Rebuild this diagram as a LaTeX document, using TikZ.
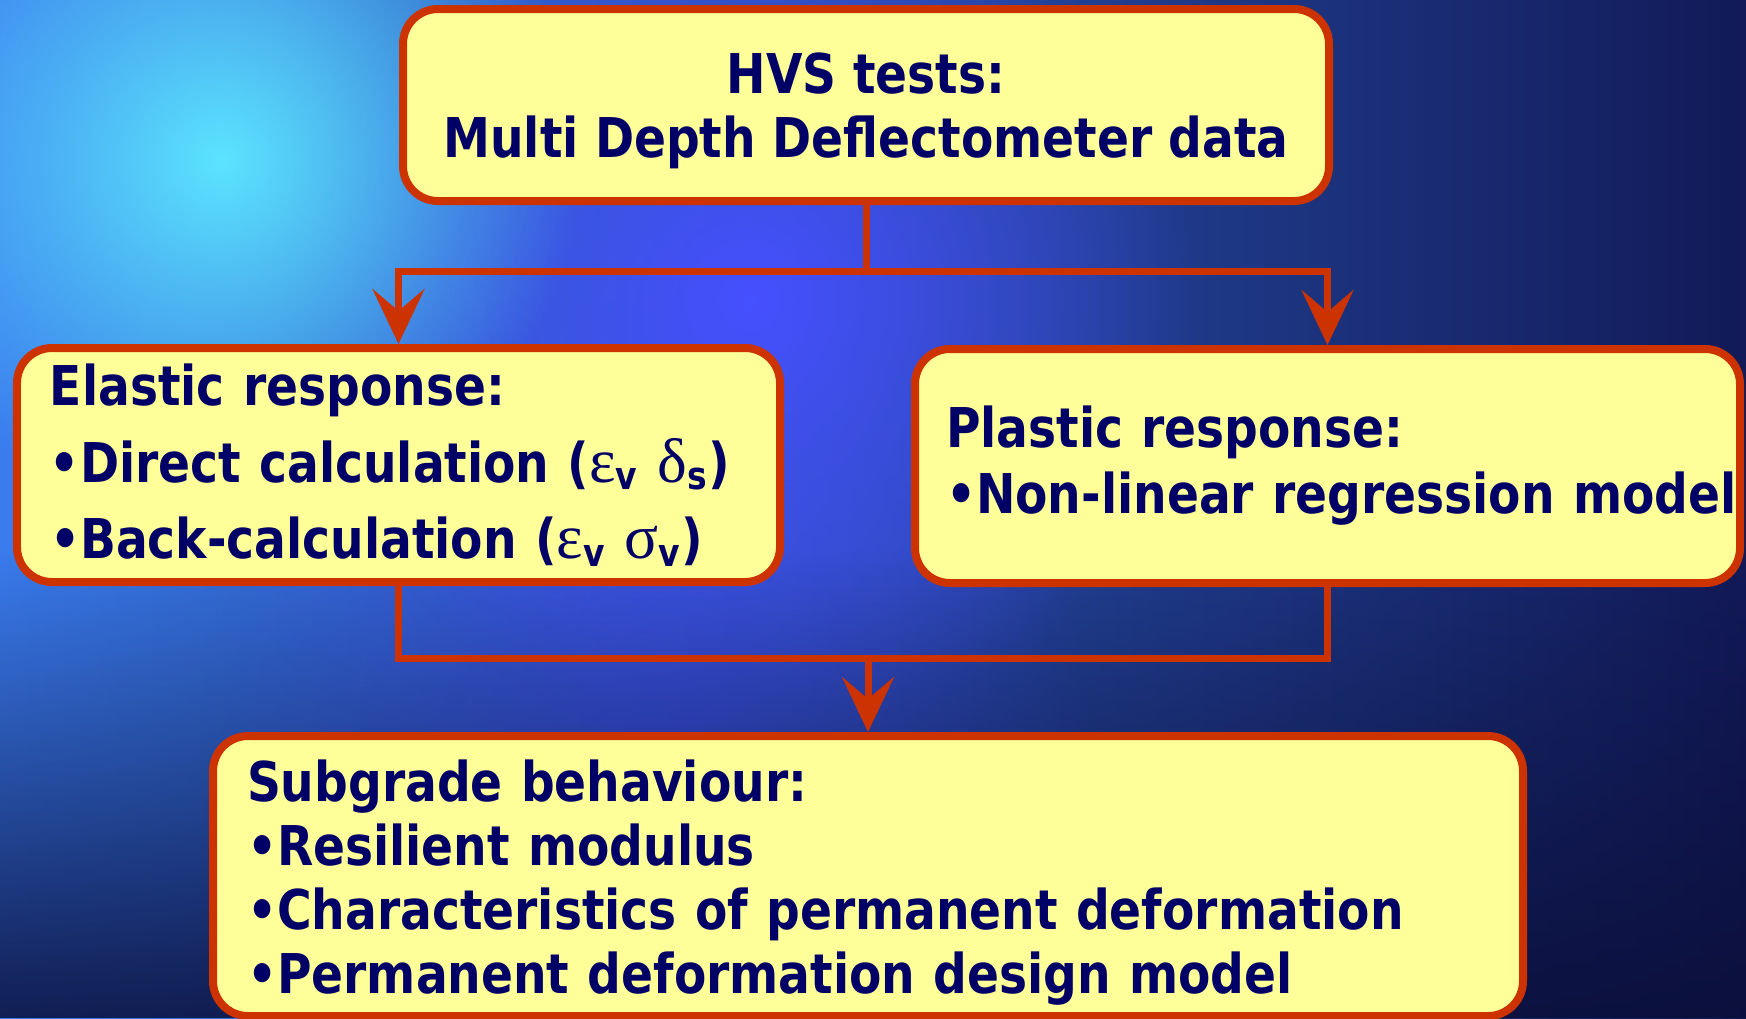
\documentclass[tikz,border=0pt]{standalone}
\usepackage{fontspec}
\setmainfont{DejaVu Sans}[FakeStretch=0.86]
\newfontfamily\greekfont{Liberation Serif}[Scale=1.15]
\usetikzlibrary{arrows.meta,fadings}
\definecolor{boxfill}{HTML}{FFFF99}
\definecolor{boxline}{HTML}{CC3300}
\definecolor{ink}{HTML}{000066}
\definecolor{bgleft}{HTML}{3A7CEE}
\definecolor{bgright}{HTML}{121A58}
\definecolor{glowcyan}{HTML}{5CE4FF}
\definecolor{glowblue}{HTML}{4650FF}
\definecolor{bgdark}{HTML}{0A0E38}
\tikzfading[name=glow, inner color=transparent!0, outer color=transparent!100]
\newcommand{\gk}[1]{{\greekfont\mdseries #1}}

\begin{document}
\begin{tikzpicture}
        \tikzstyle{stage} = [draw=boxline, fill=boxfill, line width=0.08cm, rounded corners=0.35cm, text=ink, font=\bfseries\fontsize{15.6}{18.2}\selectfont, inner ysep=0pt]
        \tikzstyle{link} = [draw=boxline, line width=0.07cm]
        \tikzstyle{tip} = [-{Stealth[length=0.55cm,width=0.52cm,inset=0.22cm]}]

        \useasboundingbox (0,0) rectangle (17.46,-10.18);

        % background
        \shade[left color=bgleft, right color=bgright] (0,0) rectangle (17.46,-10.18);
        \fill[glowblue, path fading=glow, opacity=0.6] (6.5,-7.5) circle (4.5);
        \fill[glowblue, path fading=glow] (7.5,-3) circle (4.5);
        \fill[glowcyan, path fading=glow] (2.2,-1.6) circle (3.6);
        \fill[bgdark, opacity=0.85, path fading=north] (0,-5.5) rectangle (17.46,-10.18);

        \node[stage, align=center, text depth=0pt, minimum width=9.26cm, minimum height=1.92cm] (H) at (8.66,-1.05)
            {HVS tests:\\Multi Depth Deflectometer data};
        \node[stage, align=left, inner xsep=0.33cm, text width=6.97cm, minimum width=7.63cm, minimum height=2.34cm, font=\bfseries\fontsize{15.6}{21.8}\selectfont] (E) at (3.985,-4.65)
            {Elastic response:\\•Direct calculation (\gk{ε}\textsubscript{v} \gk{δ}\textsubscript{s})\\•Back-calculation (\gk{ε}\textsubscript{v} \gk{σ}\textsubscript{v})};
        \node[stage, align=left, inner xsep=0.31cm, text width=7.63cm, minimum width=8.25cm, minimum height=2.34cm, font=\bfseries\fontsize{15.6}{18.8}\selectfont] (P) at (13.275,-4.66)
            {Plastic response:\\\mbox{•Non-linear regression model}};
        \node[stage, align=left, inner xsep=0.34cm, text width=12.42cm, minimum width=13.10cm, minimum height=2.80cm] (S) at (8.68,-8.76)
            {\rule{0pt}{0.54cm}Subgrade behaviour:\\•Resilient modulus\\•Characteristics of permanent deformation\\•Permanent deformation design model};

        \draw[link] (H.south) -- ++(0,-0.66) coordinate (split);
        \draw[link, tip] (split) -| (E.north);
        \draw[link, tip] (split) -| (P.north);

        \coordinate (merge) at (S.north |- 0,-6.58);
        \draw[link] (E.south) |- (merge) -| (P.south);
        \draw[link, tip] (merge) -- (S.north);

    \end{tikzpicture}
\end{document}
